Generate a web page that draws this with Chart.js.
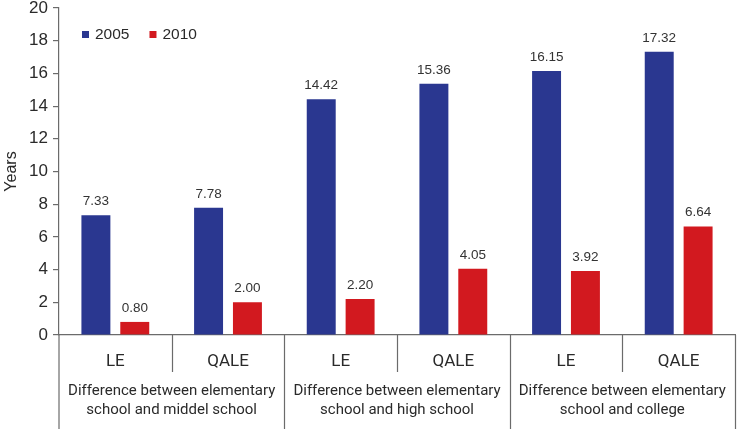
<!DOCTYPE html>
<html><head><meta charset="utf-8">
<script src="https://cdn.jsdelivr.net/npm/chart.js@4/dist/chart.umd.min.js"></script>
<style>html,body{margin:0;padding:0;background:#fff}#wrap{width:737px;height:429px}</style>
</head><body><div id="wrap"><canvas id="c" width="737" height="429"></canvas></div>
<script>
const categories = ["LE", "QALE", "LE", "QALE", "LE", "QALE"];
const groups = [
  ["Difference between elementary", "school and middel school"],
  ["Difference between elementary", "school and high school"],
  ["Difference between elementary", "school and college"]
];
const series2005 = [7.33, 7.78, 14.42, 15.36, 16.15, 17.32];
const series2010 = [0.80, 2.00, 2.20, 4.05, 3.92, 6.64];
const yTicks = [0, 2, 4, 6, 8, 10, 12, 14, 16, 18, 20];

const BLUE = "#2a3790", RED = "#d2191f", AXIS = "#6b6b6b", TXT = "#2a2a2a";
const labelFont = 'Roboto, "Noto Sans", sans-serif';
const numFont = '"Liberation Sans", Arial, sans-serif';

const extras = {
  id: "extras",
  afterDatasetsDraw(chart) {
    const ctx = chart.ctx;
    ctx.save();
    ctx.font = '13.5px ' + numFont;
    ctx.fillStyle = "#333";
    ctx.textAlign = "center";
    ctx.textBaseline = "middle";
    chart.data.datasets.forEach((ds, di) => {
      chart.getDatasetMeta(di).data.forEach((bar, i) => {
        ctx.fillText(ds.data[i].toFixed(2), bar.x, bar.y - 14);
      });
    });
    // legend
    ctx.font = '15.5px ' + numFont;
    ctx.textAlign = "left";
    let lx = chart.chartArea.left + 23;
    const ly = chart.chartArea.top + 27;
    chart.data.datasets.forEach((ds) => {
      ctx.fillStyle = ds.backgroundColor;
      ctx.fillRect(lx, ly - 4, 7, 7);
      ctx.fillStyle = TXT;
      ctx.fillText(ds.label, lx + 13, ly);
      lx += 13 + ctx.measureText(ds.label).width + 20;
    });
    ctx.restore();
  },
  afterDraw(chart) {
    const ctx = chart.ctx, x = chart.scales.x, area = chart.chartArea;
    const H = chart.height;
    const n = categories.length;
    const half = (x.getPixelForValue(1) - x.getPixelForValue(0)) / 2;
    ctx.save();
    ctx.strokeStyle = AXIS;
    ctx.lineWidth = 1.2;
    ctx.beginPath();
    ctx.moveTo(area.left, area.bottom);
    ctx.lineTo(area.left, H);
    ctx.stroke();
    for (let i = 1; i <= n; i++) {
      const px = Math.round(x.getPixelForValue(i - 1) + half) + 0.5;
      const bottom = (i % 2 === 0) ? H : area.bottom + 37;
      ctx.beginPath();
      ctx.moveTo(px, area.bottom);
      ctx.lineTo(px, bottom);
      ctx.stroke();
    }
    ctx.fillStyle = TXT;
    ctx.font = '15px ' + labelFont;
    ctx.textAlign = "center";
    ctx.textBaseline = "middle";
    groups.forEach((g, gi) => {
      const cx = (x.getPixelForValue(gi * 2) + x.getPixelForValue(gi * 2 + 1)) / 2;
      g.forEach((line, li) => ctx.fillText(line, cx, area.bottom + 56 + li * 19));
    });
    ctx.restore();
  }
};

new Chart(document.getElementById("c"), {
  type: "bar",
  data: {
    labels: categories,
    datasets: [
      { label: "2005", data: series2005, backgroundColor: BLUE },
      { label: "2010", data: series2010, backgroundColor: RED }
    ]
  },
  plugins: [extras],
  options: {
    responsive: false,
    animation: false,
    devicePixelRatio: 1,
    layout: { padding: { left: 0, right: 2, top: 0, bottom: 0 } },
    datasets: { bar: { categoryPercentage: 0.69, barPercentage: 0.745 } },
    plugins: {
      tooltip: { enabled: false },
      legend: { display: false }
    },
    scales: {
      x: {
        grid: { display: false },
        border: { color: AXIS, width: 1.2 },
        ticks: { color: TXT, font: { size: 17, family: labelFont }, padding: 9, maxRotation: 0 },
        afterFit(s) { s.height = 94; s.paddingLeft = 0; s.paddingRight = 0; }
      },
      y: {
        min: 0, max: 20,
        afterBuildTicks(s) { s.ticks = yTicks.map(v => ({ value: v })); },
        grid: { drawOnChartArea: false, tickLength: 6, color: AXIS, lineWidth: 1.2 },
        border: { color: AXIS, width: 1.2 },
        ticks: { color: TXT, font: { size: 17, family: numFont }, padding: 5 },
        title: { display: true, text: "Years", color: TXT, font: { size: 16, family: numFont }, padding: 2 },
        afterFit(s) { s.width = 59; s.paddingTop = 8; s.paddingBottom = 0; }
      }
    }
  }
});
</script></body></html>
